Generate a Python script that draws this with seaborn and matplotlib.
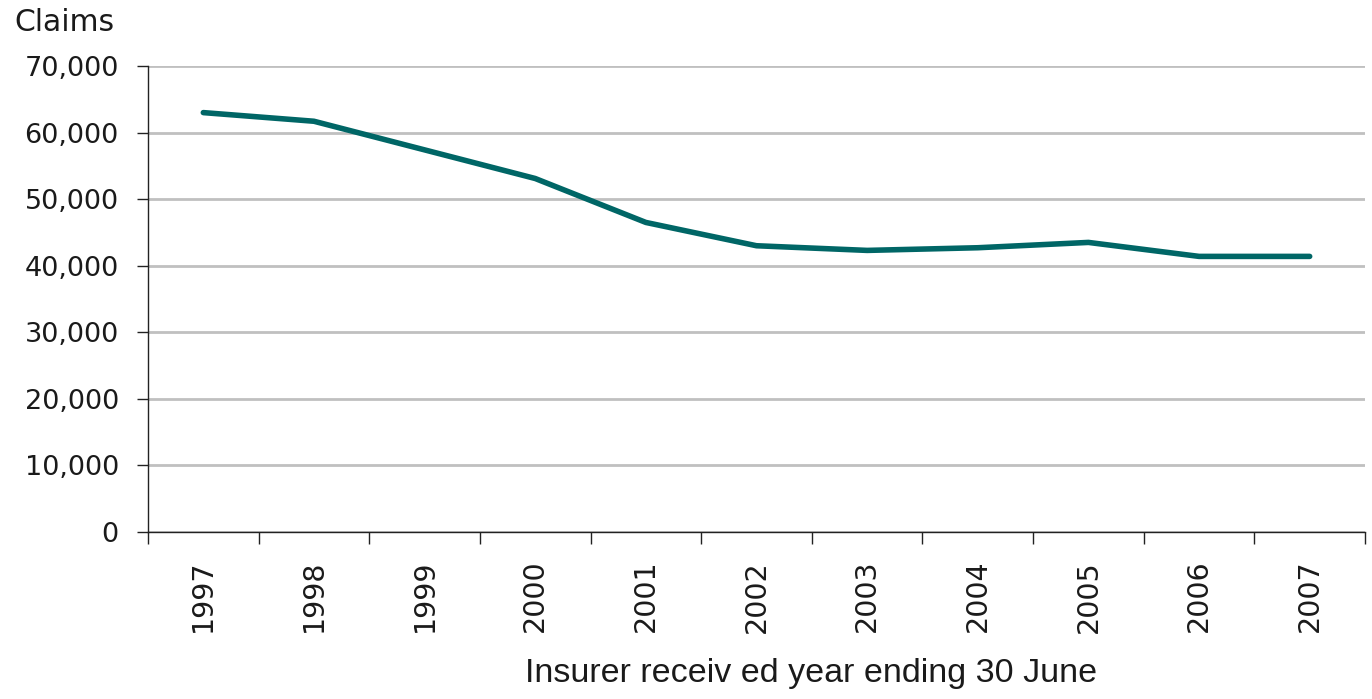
import matplotlib
matplotlib.use("Agg")
import matplotlib.pyplot as plt
import matplotlib.ticker as mticker
import seaborn as sns
import pandas as pd
import numpy as np

years = ["1997", "1998", "1999", "2000", "2001", "2002", "2003", "2004", "2005", "2006", "2007"]
claims = [63000, 61700, 57400, 53100, 46500, 43000, 42300, 42700, 43500, 41400, 41400]
y_ticks = [0, 10000, 20000, 30000, 40000, 50000, 60000, 70000]
x_title = "Insurer receiv ed year ending 30 June"
y_title = "Claims"

sns.set_theme(style="white")
plt.rcParams['font.family'] = ['DejaVu Sans']

df = pd.DataFrame({"pos": np.arange(len(years)), "claims": claims})

fig = plt.figure(figsize=(13.72, 6.99), dpi=100)
ax = fig.add_axes([148/1372, 1 - 532/699, 1217/1372, 466/699])

sns.lineplot(data=df, x="pos", y="claims", ax=ax, color="#006666",
             linewidth=4.0, solid_capstyle="round", solid_joinstyle="round", zorder=3)

ax.set_xlim(-0.5, len(years) - 0.5)
ax.set_ylim(0, 70000)
ax.set_yticks(y_ticks)
ax.yaxis.set_major_formatter(mticker.FuncFormatter(lambda v, p: f"{int(v):,}"))
ax.grid(axis="y", color="#c0c0c0", linewidth=2, zorder=0)
ax.grid(axis="x", visible=False)

ax.set_xticks(np.arange(len(years)))
ax.set_xticklabels(years, rotation=90, fontsize=20.5, color="#1a1a1a")
ax.set_xticks(np.arange(-0.5, len(years)), minor=True)
ax.tick_params(axis="x", which="major", length=0, pad=20)
ax.tick_params(axis="x", which="minor", length=8.5, width=1, color="#222222", direction="out", bottom=True)
ax.tick_params(axis="y", which="major", length=8, width=1, color="#222222", direction="out",
               left=True, pad=13, labelsize=19.5, labelcolor="#1a1a1a")

for s in ["top", "right"]:
    ax.spines[s].set_visible(False)
for s in ["left", "bottom"]:
    ax.spines[s].set_color("#222222")
    ax.spines[s].set_linewidth(1.0)

ax.set_ylabel("")
ax.set_xlabel(x_title, fontsize=24.5, color="#1a1a1a",
              family=["Liberation Sans Narrow", "Liberation Sans", "DejaVu Sans"])
ax.xaxis.set_label_coords((811 - 148) / 1217, (532 - 658) / 466)
ax.xaxis.label.set_va("top")

fig.text(14/1372, 1 - 8/699, y_title, fontsize=21.5, color="#1a1a1a", ha="left", va="top")

fig.savefig("out.png", dpi=100)
